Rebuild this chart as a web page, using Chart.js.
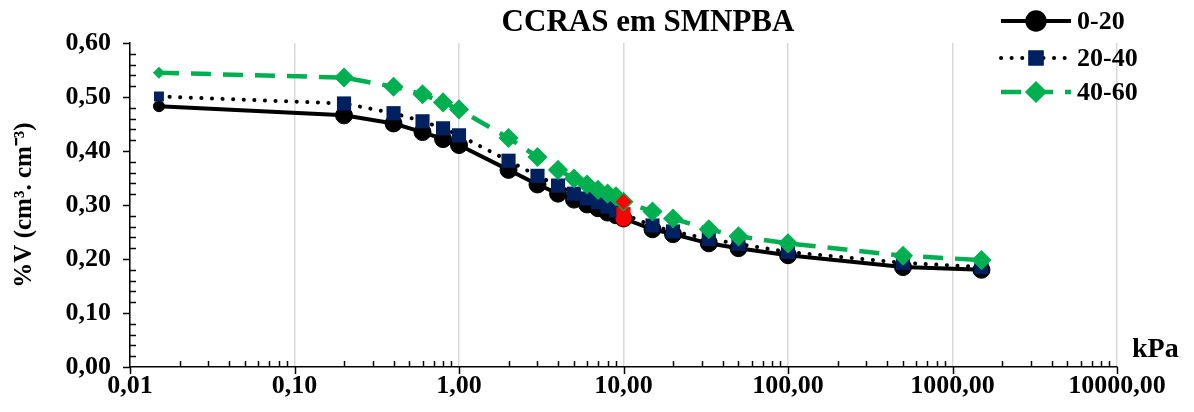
<!DOCTYPE html>
<html>
<head>
<meta charset="utf-8">
<script src="https://cdn.jsdelivr.net/npm/chart.js@4/dist/chart.umd.min.js"></script>
<style>
  html, body { margin: 0; padding: 0; background: #fff; }
  #wrap { width: 1194px; height: 412px; }
</style>
</head>
<body>
<div id="wrap"><canvas id="ccras"></canvas></div>
<script>
// suction (kPa) and volumetric water content per layer
const pressures = [0.015, 0.2, 0.4, 0.6, 0.8, 1, 2, 3, 4, 5, 6, 7, 8, 9, 10, 15, 20, 33, 50, 100, 500, 1500];
const layer0_20 = [0.483, 0.466, 0.451, 0.435, 0.422, 0.411, 0.365, 0.338, 0.321, 0.310, 0.301, 0.294, 0.286, 0.281, 0.275, 0.255, 0.246, 0.229, 0.220, 0.207, 0.185, 0.180];
const layer20_40 = [0.501, 0.488, 0.470, 0.455, 0.442, 0.429, 0.382, 0.354, 0.336, 0.321, 0.312, 0.305, 0.297, 0.290, 0.283, 0.262, 0.251, 0.237, 0.228, 0.213, 0.193, 0.185];
const layer40_60 = [0.545, 0.536, 0.519, 0.505, 0.490, 0.477, 0.424, 0.389, 0.365, 0.349, 0.338, 0.328, 0.321, 0.316, 0.306, 0.288, 0.275, 0.255, 0.242, 0.229, 0.206, 0.198];
const seriesNames = ['0-20', '20-40', '40-60'];
const xTickValues = [0.01, 0.1, 1, 10, 100, 1000, 10000];

const FONT = "'Liberation Serif', 'Times New Roman', serif";
const GREEN = '#00b050';
const NAVY = '#002060';
const highlightAt = 10; // the field-capacity point drawn red

function pts(values) {
    return pressures.map((p, i) => ({ x: p, y: values[i] }));
}
function fillFor(base) {
    return pressures.map(p => p === highlightAt ? '#ff0000' : base);
}
function sizeFor(normal, first) {
    return pressures.map((p, i) => i === 0 ? first : normal);
}
function comma(v, d) {
    return v.toFixed(d).replace('.', ',');
}

// axis ticks, title, legend and unit label
const decorations = {
    id: 'decorations',
    afterDraw(chart) {
        const ctx = chart.ctx;
        const xs = chart.scales.x, ys = chart.scales.y;
        const area = chart.chartArea;
        ctx.save();
        ctx.strokeStyle = '#000';
        ctx.lineWidth = 1.5;
        // y ticks
        for (let k = 0; k <= 30; k++) {
            const v = k * 0.02;
            const py = Math.round(ys.getPixelForValue(v)) + 0.5;
            ctx.beginPath();
            if (k % 5 === 0) { ctx.moveTo(area.left - 7, py); ctx.lineTo(area.left, py); }
            else { ctx.moveTo(area.left, py); ctx.lineTo(area.left + 6, py); }
            ctx.stroke();
        }
        // x ticks
        for (let e = -2; e <= 4; e++) {
            for (let m = 1; m <= 9; m++) {
                const v = m * Math.pow(10, e);
                if (v > 10000) break;
                const px = Math.round(xs.getPixelForValue(v)) + 0.5;
                ctx.beginPath();
                if (m === 1) { ctx.moveTo(px, area.bottom); ctx.lineTo(px, area.bottom + 7); }
                else { ctx.moveTo(px, area.bottom); ctx.lineTo(px, area.bottom - 6); }
                ctx.stroke();
            }
        }
        // title
        ctx.fillStyle = '#000';
        ctx.font = 'bold 31px ' + FONT;
        ctx.textAlign = 'center';
        ctx.textBaseline = 'middle';
        ctx.fillText('CCRAS em SMNPBA', 648, 23);
        // unit
        ctx.font = 'bold 28px ' + FONT;
        ctx.textAlign = 'left';
        ctx.fillText('kPa', 1132, 350);
        // legend
        const rows = [21, 58, 92];
        chart.data.datasets.forEach((ds, i) => {
            const y = rows[i];
            ctx.save();
            ctx.strokeStyle = ds.borderColor;
            ctx.lineWidth = ds.borderWidth;
            ctx.lineCap = ds.borderCapStyle || 'butt';
            ctx.setLineDash(ds.borderDash || []);
            ctx.beginPath();
            ctx.moveTo(1001, y);
            ctx.lineTo(1071, y);
            ctx.stroke();
            ctx.restore();
            ctx.fillStyle = ds.legendFill;
            ctx.strokeStyle = ds.legendFill;
            Chart.helpers.drawPoint(ctx, {
                pointStyle: ds.pointStyle,
                radius: ds.legendRadius,
                borderWidth: 1
            }, 1036, y);
            ctx.fillStyle = '#000';
            ctx.font = 'bold 26px ' + FONT;
            ctx.textAlign = 'left';
            ctx.textBaseline = 'middle';
            ctx.fillText(seriesNames[i], 1077, y + 1);
        });
        ctx.restore();
    }
};

new Chart(document.getElementById('ccras'), {
    type: 'scatter',
    data: {
        datasets: [
            {
                label: seriesNames[0],
                data: pts(layer0_20),
                showLine: true,
                borderColor: '#000',
                borderWidth: 4,
                pointStyle: 'circle',
                pointRadius: sizeFor(8.5, 5.5),
                pointBackgroundColor: fillFor('#000'),
                pointBorderColor: '#000',
                pointBorderWidth: 1,
                legendRadius: 10,
                legendFill: '#000',
                order: 3
            },
            {
                label: seriesNames[1],
                data: pts(layer20_40),
                showLine: true,
                borderColor: '#000',
                borderWidth: 4,
                borderDash: [0.1, 10.5],
                borderCapStyle: 'round',
                pointStyle: 'rect',
                pointRadius: sizeFor(10, 7),
                pointBackgroundColor: fillFor(NAVY),
                pointBorderColor: fillFor(NAVY),
                pointBorderWidth: 0,
                legendRadius: 10,
                legendFill: NAVY,
                order: 2
            },
            {
                label: seriesNames[2],
                data: pts(layer40_60),
                showLine: true,
                borderColor: GREEN,
                borderWidth: 4.5,
                borderDash: [20, 12],
                pointStyle: 'rectRot',
                pointRadius: sizeFor(9, 5),
                pointBackgroundColor: fillFor(GREEN),
                pointBorderColor: GREEN,
                pointBorderWidth: 1.5,
                legendRadius: 10,
                legendFill: GREEN,
                order: 1
            }
        ]
    },
    options: {
        responsive: true,
        maintainAspectRatio: false,
        animation: false,
        events: [],
        layout: { padding: { top: 43, right: 77, left: 0, bottom: 0 } },
        plugins: {
            legend: { display: false },
            tooltip: { enabled: false }
        },
        elements: { line: { tension: 0 } },
        scales: {
            x: {
                type: 'logarithmic',
                min: 0.01,
                max: 10000,
                afterBuildTicks: (scale) => { scale.ticks = xTickValues.map(v => ({ value: v })); },
                afterFit: (scale) => { scale.height = 45; },
                ticks: {
                    callback: (v) => comma(v, 2),
                    color: '#000',
                    font: { family: FONT, size: 26, weight: 'bold' },
                    maxRotation: 0,
                    autoSkip: false,
                    padding: 4
                },
                grid: { color: '#d9d9d9', lineWidth: 1.5, drawTicks: false },
                border: { color: '#000', width: 1.5 }
            },
            y: {
                min: 0,
                max: 0.6,
                afterFit: (scale) => { scale.width = 130; },
                ticks: {
                    stepSize: 0.1,
                    callback: (v) => comma(v, 2),
                    color: '#000',
                    font: { family: FONT, size: 26, weight: 'bold' },
                    padding: 19
                },
                grid: { display: false, drawTicks: false },
                border: { color: '#000', width: 1.5 },
                title: {
                    display: true,
                    text: '%V (cm³. cm⁻³)',
                    color: '#000',
                    font: { family: FONT, size: 25, weight: 'bold' },
                    padding: { top: 10, bottom: 0 }
                }
            }
        }
    },
    plugins: [decorations]
});
</script>
</body>
</html>
